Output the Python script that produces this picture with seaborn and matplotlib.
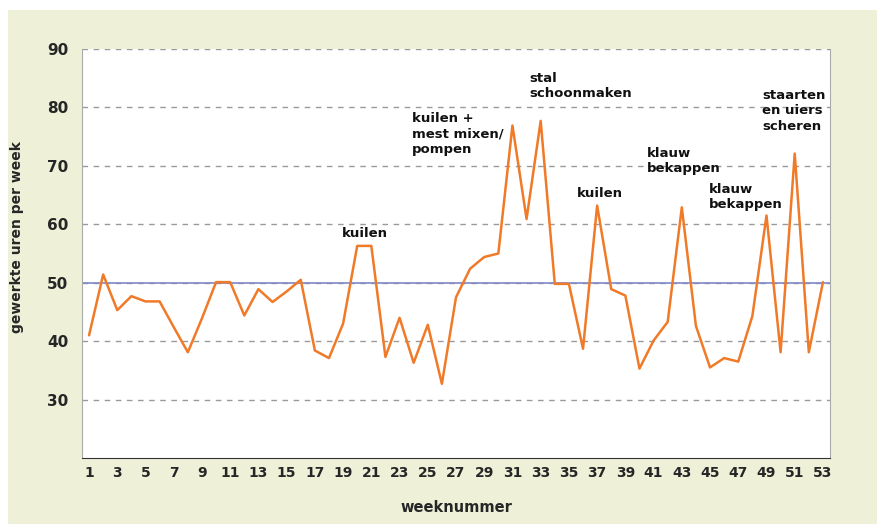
import matplotlib
matplotlib.use("Agg")
import matplotlib.pyplot as plt
import seaborn as sns
import pandas as pd
from matplotlib.patches import Rectangle

# data
weeks = list(range(1, 54))
hours = [41, 51.4, 45.3, 47.7, 46.8, 46.8, 42.4, 38.1, 43.9, 50.1,
         50.1, 44.4, 48.9, 46.7, 48.5, 50.5, 38.4, 37.1, 43, 56.3,
         56.3, 37.3, 44, 36.3, 42.8, 32.7, 47.5, 52.4, 54.4, 55,
         76.9, 60.9, 77.7, 49.8, 49.8, 38.7, 63.2, 48.9, 47.8, 35.3,
         40.1, 43.3, 62.9, 42.6, 35.5, 37.1, 36.5, 44.3, 61.5, 38.1,
         72.1, 38.1, 50.1]
norm_line = 50
ytick_vals = [30, 40, 50, 60, 70, 80, 90]
xtick_labels = list(range(1, 54, 2))

notes = ["kuilen", "kuilen +\nmest mixen/\npompen", "stal\nschoonmaken", "kuilen",
         "klauw\nbekappen", "klauw\nbekappen", "staarten\nen uiers\nscheren"]
note_x = [18.9, 23.9, 32.2, 35.6, 40.5, 44.9, 48.7]
note_y = [59.5, 79.3, 86.1, 66.3, 73.3, 67.1, 83.2]

df = pd.DataFrame({"week": weeks, "uren": hours})

sns.set_style("white")
plt.rcParams["font.family"] = ["DejaVu Sans"]

bg = "#eef1d8"
fig = plt.figure(figsize=(8.77, 5.24), dpi=100, facecolor="white")
fig.patches.append(Rectangle((8 / 877, 0), 1, 1 - 10 / 524, transform=fig.transFigure,
                             facecolor=bg, edgecolor="none", zorder=-10))
ax = fig.add_axes([82 / 877, 1 - 458 / 524, 748 / 877, 409 / 524])
ax.set_facecolor("white")

for v in ytick_vals:
    ax.axhline(v, color="#9a9a9a", lw=1, ls=(0, (4, 4)), zorder=1)
ax.axhline(norm_line, color="#7f88c8", lw=1.2, zorder=2)

sns.lineplot(data=df, x="week", y="uren", ax=ax, color="#f07a28", lw=1.8, zorder=3)

for t, x, y in zip(notes, note_x, note_y):
    ax.text(x, y, t, ha="left", va="top", fontsize=9.5, fontweight="bold",
            color="#111111", linespacing=1.25, zorder=4)

ax.set_xlim(0.5, 53.5)
ax.set_ylim(20, 90)
ax.set_xticks(weeks, minor=True)
ax.set_xticks(xtick_labels)
ax.set_xticklabels([str(v) for v in xtick_labels], fontsize=10, fontweight="bold")
ax.set_yticks(ytick_vals)
ax.set_yticklabels([str(v) for v in ytick_vals], fontsize=11, fontweight="bold")
ax.tick_params(axis="x", which="both", direction="in", length=5, color="#333333", pad=6)
ax.tick_params(axis="y", length=0, pad=10)

ax.set_xlabel("weeknummer", fontsize=10.5, fontweight="bold", labelpad=14)
ax.set_ylabel("gewerkte uren per week", fontsize=10, fontweight="bold")
ax.yaxis.set_label_coords(-0.078, 0.54)

for s in ["left", "right", "top"]:
    ax.spines[s].set_color("#aaaaaa")
    ax.spines[s].set_linestyle((0, (1, 1)))
ax.spines["top"].set_visible(False)
ax.spines["bottom"].set_color("#333333")

fig.savefig("out.png", dpi=100, facecolor=fig.get_facecolor())
